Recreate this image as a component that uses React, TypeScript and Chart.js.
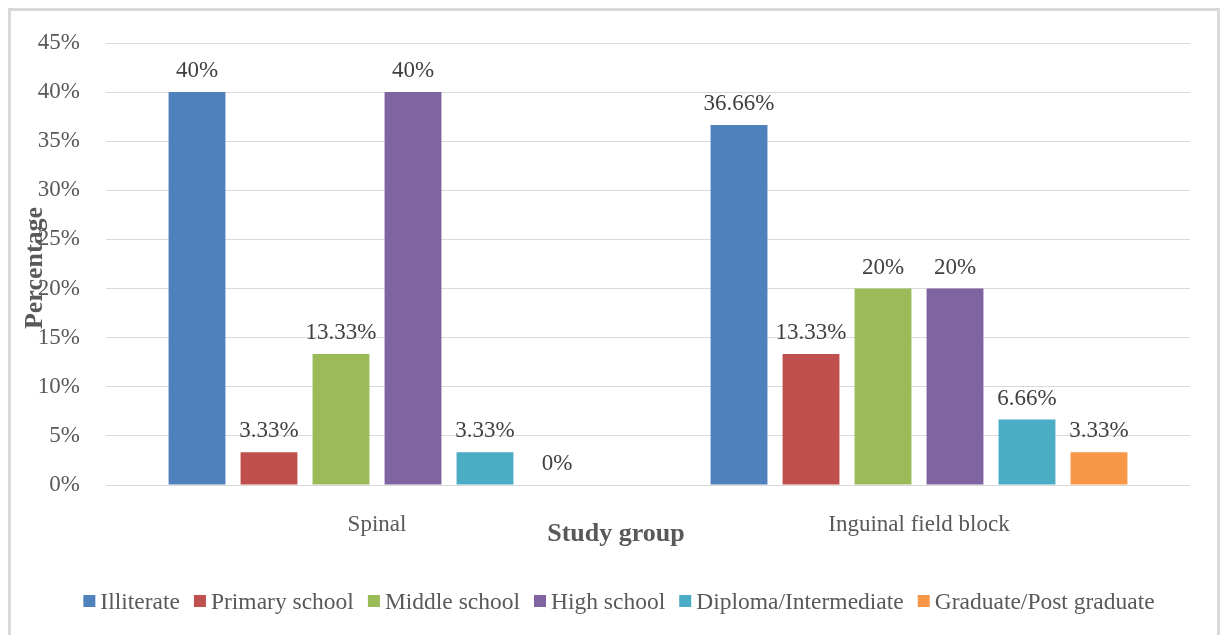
import React, { useEffect, useRef } from "react";
import { Chart, registerables } from "chart.js";

Chart.register(...registerables);

// Study groups on the x axis
const groups = ["Spinal", "Inguinal field block"];

// Education levels (one series each)
const levels = [
  "Illiterate",
  "Primary school",
  "Middle school",
  "High school",
  "Diploma/Intermediate",
  "Graduate/Post graduate",
];

// Percentages per level, [Spinal, Inguinal field block]
const illiterate = [40, 36.66];
const primarySchool = [3.33, 13.33];
const middleSchool = [13.33, 20];
const highSchool = [40, 20];
const diploma = [3.33, 6.66];
const graduate = [0, 3.33];

const seriesValues = [illiterate, primarySchool, middleSchool, highSchool, diploma, graduate];
const seriesColors = ["#4F81BD", "#C0504D", "#9BBB59", "#8064A2", "#4BACC6", "#F79646"];

// Y axis range and step (percent)
const yMin = 0;
const yMax = 45;
const yStep = 5;

const xTitle = "Study group";
const yTitle = "Percentage";

const SERIF = "'Liberation Serif', 'Times New Roman', serif";
const TEXT = "#595959";
const LABEL = "#404040";

// Value labels above each bar
const barLabels = {
  id: "barLabels",
  afterDatasetsDraw(chart: any) {
    const ctx = chart.ctx;
    ctx.save();
    ctx.font = `23px ${SERIF}`;
    ctx.fillStyle = LABEL;
    ctx.textAlign = "center";
    ctx.textBaseline = "alphabetic";
    chart.data.datasets.forEach((ds: any, di: number) => {
      const meta = chart.getDatasetMeta(di);
      meta.data.forEach((bar: any, i: number) => {
        const v = ds.data[i];
        ctx.fillText(`${v}%`, bar.x, bar.y - 15);
      });
    });
    ctx.restore();
  },
};

// Axis titles and the bottom legend
const decorations = {
  id: "decorations",
  afterDraw(chart: any) {
    const ctx = chart.ctx;
    const area = chart.chartArea;
    ctx.save();
    ctx.fillStyle = TEXT;

    // Axis titles
    ctx.font = `bold 26px ${SERIF}`;
    ctx.textAlign = "center";
    ctx.textBaseline = "middle";
    ctx.fillText(xTitle, area.left + (area.right - area.left) / 2 - 32, area.bottom + 49);
    ctx.save();
    ctx.translate(24, area.top + (area.bottom - area.top) / 2 + 4);
    ctx.rotate(-Math.PI / 2);
    ctx.fillText(yTitle, 0, 0);
    ctx.restore();

    // Legend
    ctx.font = `23.5px ${SERIF}`;
    ctx.textAlign = "left";
    ctx.textBaseline = "alphabetic";
    const box = 12;
    const gapText = 5;
    const gapItem = 14;
    const widths = levels.map((l) => ctx.measureText(l).width);
    const total =
      widths.reduce((a, w) => a + box + gapText + w, 0) + gapItem * (levels.length - 1);
    let x = 608 - total / 2;
    const baseline = 598;
    levels.forEach((label, i) => {
      ctx.fillStyle = seriesColors[i];
      ctx.fillRect(x, baseline - 14, box, box);
      x += box + gapText;
      ctx.fillStyle = TEXT;
      ctx.fillText(label, x, baseline);
      x += widths[i] + gapItem;
    });
    ctx.restore();
  },
};

export default function App() {
  const canvasRef = useRef<HTMLCanvasElement | null>(null);

  useEffect(() => {
    if (!canvasRef.current) return;
    const chart = new Chart(canvasRef.current, {
      type: "bar",
      data: {
        labels: groups,
        datasets: levels.map((label, i) => ({
          label,
          data: seriesValues[i],
          backgroundColor: seriesColors[i],
          borderWidth: 0,
          categoryPercentage: 0.797,
          barPercentage: 0.79,
        })),
      },
      options: {
        responsive: false,
        animation: false,
        layout: { padding: { top: 32, right: 27, left: 0, bottom: 0 } },
        plugins: {
          legend: { display: false },
          tooltip: { enabled: false },
          title: { display: false },
        },
        scales: {
          x: {
            grid: { display: false },
            border: { display: false },
            ticks: {
              color: TEXT,
              font: { family: SERIF, size: 23 },
              padding: 18,
            },
            afterFit(scale: any) {
              scale.height = 156;
            },
          },
          y: {
            min: yMin,
            max: yMax,
            grid: { color: "#D9D9D9", lineWidth: 1, drawTicks: false },
            border: { display: false },
            ticks: {
              stepSize: yStep,
              color: TEXT,
              padding: 26,
              font: { family: SERIF, size: 23 },
              callback: (v: any) => `${v}%`,
            },
            afterFit(scale: any) {
              scale.width = 95;
              scale.paddingTop = 0;
              scale.paddingBottom = 0;
            },
          },
        },
      },
      plugins: [barLabels, decorations],
    });
    return () => chart.destroy();
  }, []);

  return (
    <div
      style={{
        position: "fixed",
        left: 8,
        top: 8,
        width: 1206,
        height: 630,
        border: "3px solid #D9D9D9",
        background: "#fff",
      }}
    >
      <canvas ref={canvasRef} width={1206} height={630} style={{ display: "block" }} />
    </div>
  );
}
